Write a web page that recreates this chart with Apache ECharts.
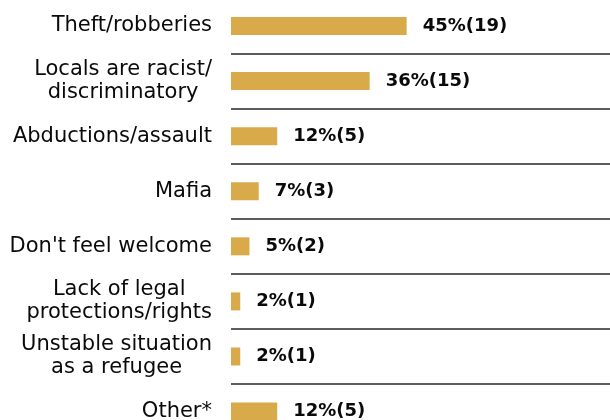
<!DOCTYPE html>
<html><head><meta charset="utf-8">
<script src="https://cdn.jsdelivr.net/npm/echarts@6/dist/echarts.min.js"></script>
<style>html,body{margin:0;padding:0;background:#fff;overflow:hidden}#c{width:610px;height:420px}</style>
</head><body><div id="c"></div>
<script>
const categories = ["Theft/robberies", "Locals are racist/\ndiscriminatory", "Abductions/assault", "Mafia", "Don't feel welcome", "Lack of legal\nprotections/rights", "Unstable situation\nas a refugee", "Other*"];
const counts = [19, 15, 5, 3, 2, 1, 1, 5];
const percents = [45, 36, 12, 7, 5, 2, 2, 12];

const chart = echarts.init(document.getElementById('c'), null, {renderer: 'canvas'});
chart.setOption({
  animation: false,
  backgroundColor: '#ffffff',
  grid: {left: 231, right: 0, top: -1.5, height: 440.6, containLabel: false, outerBoundsMode: 'none'},
  xAxis: {type: 'value', min: 0, max: 41, show: false},
  yAxis: {
    type: 'category', inverse: true, data: categories,
    axisLine: {show: false}, axisTick: {show: false},
    splitLine: {show: true, lineStyle: {color: '#262626', width: 1.5}},
    axisLabel: {
      interval: 0, margin: 19, align: 'right',
      formatter: function (v) { return v.split('\n').map(function (s) { return '{c|' + s + '}'; }).join('\n'); },
      rich: {c: {fontFamily: 'DejaVu Sans', fontSize: 21, color: '#0a0a0a', align: 'center', lineHeight: 23}}
    }
  },
  series: [{
    type: 'bar', data: counts, barWidth: 18,
    itemStyle: {color: '#D8AA4A'},
    label: {
      show: true, position: 'right', distance: 16,
      fontFamily: 'DejaVu Sans', fontWeight: 'bold', fontSize: 18, color: '#0a0a0a',
      formatter: function (p) { return percents[p.dataIndex] + '%(' + counts[p.dataIndex] + ')'; }
    }
  }]
});
</script></body></html>
